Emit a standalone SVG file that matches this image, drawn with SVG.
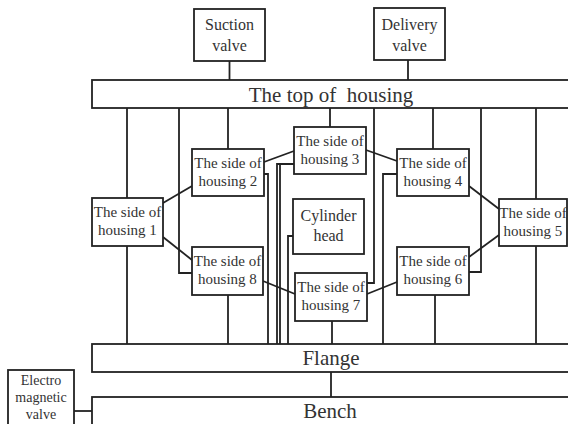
<svg xmlns="http://www.w3.org/2000/svg" width="568" height="424" viewBox="0 0 568 424" font-family="Liberation Serif, DejaVu Serif, serif">
<style>
  .box { fill: #fff; stroke: #222; stroke-width: 1.8; }
  .ln { fill: none; stroke: #222; stroke-width: 1.8; }
  text { font-family: "Liberation Serif", "DejaVu Serif", serif; fill: #333; text-anchor: middle; }
  .s15 { font-size: 15px; }
  .s16 { font-size: 16px; }
  .s14 { font-size: 14px; }
  .s21 { font-size: 21px; }
</style>
<rect width="568" height="424" fill="#fff"/>
<g id="connectors">
  <line class="ln" x1="229.5" y1="61" x2="229.5" y2="80"/>
  <line class="ln" x1="408" y1="60" x2="408" y2="80"/>
  <line class="ln" x1="127" y1="108" x2="127" y2="198"/>
  <line class="ln" x1="127" y1="246" x2="127" y2="344"/>
  <polyline class="ln" points="179,108 179,273 192,273"/>
  <line class="ln" x1="228" y1="108" x2="228" y2="149"/>
  <line class="ln" x1="228" y1="295" x2="228" y2="344"/>
  <line class="ln" x1="163" y1="203" x2="192" y2="186"/>
  <line class="ln" x1="163" y1="237" x2="192" y2="260"/>
  <line class="ln" x1="264" y1="162" x2="294" y2="151"/>
  <polyline class="ln" points="264,174 268,174 268,344"/>
  <polyline class="ln" points="294,164 277,164 277,344"/>
  <polyline class="ln" points="294,164 280,164 280,344"/>
  <polyline class="ln" points="293,236 288,236 288,344"/>
  <line class="ln" x1="263" y1="281" x2="295" y2="294"/>
  <line class="ln" x1="330" y1="108" x2="330" y2="127"/>
  <polyline class="ln" points="374,108 374,283 367,283"/>
  <line class="ln" x1="332" y1="321" x2="332" y2="344"/>
  <line class="ln" x1="366" y1="150" x2="397" y2="161"/>
  <polyline class="ln" points="397,174 383,174 383,344"/>
  <line class="ln" x1="433" y1="108" x2="433" y2="149"/>
  <line class="ln" x1="469" y1="186" x2="499" y2="209"/>
  <line class="ln" x1="469" y1="257" x2="499" y2="235"/>
  <polyline class="ln" points="481,108 481,272 469,272"/>
  <line class="ln" x1="367" y1="294" x2="397" y2="282"/>
  <line class="ln" x1="435" y1="295" x2="435" y2="344"/>
  <line class="ln" x1="536" y1="108" x2="536" y2="199"/>
  <line class="ln" x1="536" y1="246" x2="536" y2="344"/>
  <line class="ln" x1="331" y1="372" x2="331" y2="397"/>
  <line class="ln" x1="74" y1="411" x2="92" y2="411" stroke-width="3"/>
</g>
<g id="suction-valve">
  <rect class="box" x="194" y="9" width="71" height="52"/>
  <text class="s16" x="229.5" y="30" font-family="Liberation Serif, serif">Suction</text>
  <text class="s16" x="229.5" y="51" font-family="Liberation Serif, serif">valve</text>
</g>
<g id="delivery-valve">
  <rect class="box" x="374" y="8" width="71" height="52"/>
  <text class="s16" x="409.5" y="30" font-family="Liberation Serif, serif">Delivery</text>
  <text class="s16" x="409.5" y="51" font-family="Liberation Serif, serif">valve</text>
</g>
<g id="top-of-housing">
  <rect class="box" x="92" y="80" width="490" height="28"/>
  <text class="s21" x="331" y="102" xml:space="preserve">The top of  housing</text>
</g>
<g id="housing-1">
  <rect class="box" x="92" y="198" width="71" height="48"/>
  <text class="s15" x="127.5" y="217">The side of</text>
  <text class="s15" x="127.5" y="235">housing 1</text>
</g>
<g id="housing-2">
  <rect class="box" x="192" y="149" width="72" height="47"/>
  <text class="s15" x="228" y="168">The side of</text>
  <text class="s15" x="228" y="186">housing 2</text>
</g>
<g id="housing-3">
  <rect class="box" x="294" y="127" width="72" height="47"/>
  <text class="s15" x="330" y="146">The side of</text>
  <text class="s15" x="330" y="164">housing 3</text>
</g>
<g id="housing-4">
  <rect class="box" x="397" y="149" width="72" height="47"/>
  <text class="s15" x="433" y="168">The side of</text>
  <text class="s15" x="433" y="186">housing 4</text>
</g>
<g id="housing-5">
  <rect class="box" x="499" y="199" width="68" height="47"/>
  <text class="s15" x="533" y="218">The side of</text>
  <text class="s15" x="533" y="236">housing 5</text>
</g>
<g id="housing-6">
  <rect class="box" x="397" y="247" width="72" height="48"/>
  <text class="s15" x="433" y="266">The side of</text>
  <text class="s15" x="433" y="284">housing 6</text>
</g>
<g id="housing-7">
  <rect class="box" x="295" y="273" width="72" height="48"/>
  <text class="s15" x="331" y="292">The side of</text>
  <text class="s15" x="331" y="310">housing 7</text>
</g>
<g id="housing-8">
  <rect class="box" x="192" y="247" width="71" height="48"/>
  <text class="s15" x="227.5" y="266">The side of</text>
  <text class="s15" x="227.5" y="284">housing 8</text>
</g>
<g id="cylinder-head">
  <rect class="box" x="293" y="199" width="71" height="55"/>
  <text class="s16" x="328.5" y="221">Cylinder</text>
  <text class="s16" x="328.5" y="241">head</text>
</g>
<g id="flange">
  <rect class="box" x="92" y="344" width="490" height="28"/>
  <text class="s21" x="331" y="365">Flange</text>
</g>
<g id="bench">
  <rect class="box" x="92" y="397" width="490" height="40"/>
  <text class="s21" x="330" y="418">Bench</text>
</g>
<g id="electromagnetic-valve">
  <rect class="box" x="8" y="370" width="66" height="60"/>
  <text class="s14" x="41" y="385">Electro</text>
  <text class="s14" x="41" y="402">magnetic</text>
  <text class="s14" x="41" y="419">valve</text>
</g>
</svg>
